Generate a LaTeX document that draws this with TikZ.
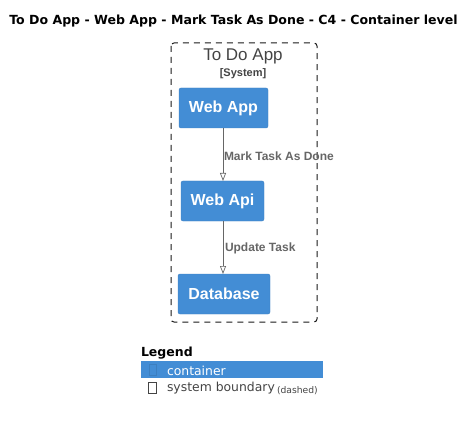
\documentclass[tikz,border=0pt]{standalone}
\usepackage{fontspec}
\setmainfont{Liberation Sans}
\newfontfamily\legendfont{DejaVu Sans}
\usetikzlibrary{arrows.meta}
\definecolor{ctr}{HTML}{438DD5}
\definecolor{ctrdark}{HTML}{3C7FC0}
\definecolor{relgray}{HTML}{666666}
\definecolor{bndtext}{HTML}{444444}
\tikzset{
  every node/.style={inner sep=0pt, outer sep=0pt},
  container/.style={fill=ctr, draw=ctrdark, line width=0.4pt, rounded corners=2pt,
    text=white, font=\fontsize{16}{18}\selectfont\bfseries, anchor=north west},
  rel/.style={draw=relgray, line width=0.7pt, -{Triangle[open, length=8pt, width=6pt]}},
  rellabel/.style={text=relgray, font=\fontsize{12}{14}\selectfont\bfseries, anchor=west},
  boundary/.style={draw=black!90, dashed, dash pattern=on 6pt off 5pt, line width=1pt, rounded corners=3pt},
  glyphbox/.style={draw, line width=0.5pt}
}
\begin{document}
\begin{tikzpicture}[x=1pt, y=-1pt]
  \useasboundingbox (0,0) rectangle (471,422);

  % title
  \node (title) at (233.5,21) {\legendfont\fontsize{12.55}{14}\selectfont\bfseries To Do App - Web App - Mark Task As Done - C4 - Container level};

  % system boundary
  \draw[boundary] (171,43) rectangle (317,322);
  \node[text=bndtext, font=\fontsize{17}{19}\selectfont] (bname) at (243,56.5) {To Do App};
  \node[text=bndtext, font=\fontsize{11}{13}\selectfont\bfseries] (btype) at (243,73.5) {[System]};

  % containers
  \node[container, minimum width=89pt, minimum height=40pt] (webapp) at (179,88) {Web App};
  \node[container, minimum width=83pt, minimum height=40pt] (webapi) at (181,181) {Web Api};
  \node[container, minimum width=92pt, minimum height=40pt] (db) at (178,274) {Database};

  % relationships
  \draw[rel] (webapp.south -| 223,0) -- (webapi.north -| 223,0);
  \draw[rel] (webapi.south -| 223,0) -- (db.north -| 223,0);
  \node[rellabel] (l1) at (224,156) {Mark Task As Done};
  \node[rellabel] (l2) at (225,248) {Update Task};

  % legend
  \node[anchor=west, font=\legendfont\fontsize{12.5}{14}\selectfont\bfseries] (legend) at (141,353) {Legend};
  \fill[ctr] (141,361) rectangle (323,378);
  \draw[glyphbox, draw=ctrdark] (149,364.5) rectangle (156,375);
  \node[anchor=west, text=white, font=\legendfont\fontsize{12.4}{14}\selectfont] (lc) at (167,370.5) {container};
  \draw[glyphbox, draw=bndtext] (148.5,382.5) rectangle (156,393);
  \node[anchor=west, text=bndtext, font=\legendfont\fontsize{12.4}{14}\selectfont] (lb) at (167,388.5) {system boundary};
  \node[anchor=west, text=bndtext, font=\legendfont\fontsize{9.2}{11}\selectfont] (ld) at (277,390.5) {(dashed)};
\end{tikzpicture}
\end{document}
